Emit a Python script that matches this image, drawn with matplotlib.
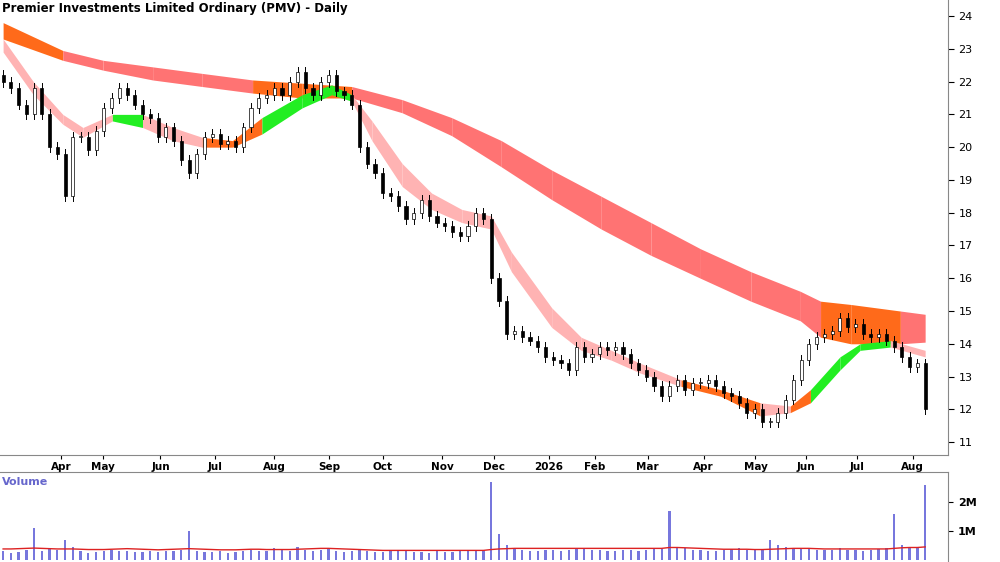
import matplotlib
matplotlib.use("Agg")
import matplotlib.pyplot as plt
import numpy as np

title = "Premier Investments Limited Ordinary (PMV) - Daily"
closes = [22.0,21.8,21.3,21.0,21.8,21.0,20.0,19.8,18.5,20.3,20.3,19.9,20.5,21.2,21.5,21.8,21.6,21.3,21.0,20.9,
          20.3,20.6,20.2,19.6,19.2,19.8,20.3,20.4,20.1,20.2,20.0,20.6,21.2,21.5,21.6,21.8,21.6,22.0,22.3,21.8,
          21.6,22.0,22.2,21.7,21.6,21.3,20.0,19.5,19.2,18.6,18.5,18.2,17.8,18.0,18.4,17.9,17.7,17.6,17.4,17.3,
          17.6,18.0,17.8,16.0,15.3,14.3,14.4,14.2,14.1,13.9,13.6,13.5,13.4,13.2,13.9,13.6,13.7,13.9,13.8,13.9,
          13.7,13.4,13.2,13.0,12.7,12.4,12.7,12.9,12.6,12.8,12.8,12.9,12.7,12.5,12.4,12.2,11.9,12.0,11.6,11.6,
          11.9,12.3,12.9,13.5,14.0,14.2,14.3,14.4,14.8,14.5,14.6,14.3,14.2,14.3,14.1,13.9,13.6,13.3,13.4,12.0]
volume_k = [300,250,280,350,1100,300,400,350,700,450,300,250,280,300,350,320,300,280,260,300,
            280,300,320,350,1000,300,280,260,300,250,280,300,350,320,300,400,350,300,450,350,
            300,350,400,300,280,320,350,300,280,260,300,320,300,280,260,250,300,280,260,300,
            320,350,300,2700,900,500,400,350,320,300,350,330,300,350,400,380,350,330,300,320,
            350,330,300,350,400,380,1700,450,400,350,330,320,300,350,380,400,360,350,380,700,
            500,450,420,400,380,350,330,360,400,350,330,320,350,380,400,1600,500,450,400,2600]
vol_ma_k = [380,380,390,400,410,400,390,380,380,380,370,360,360,360,370,380,390,380,370,360,
            350,360,370,380,390,380,370,360,350,350,350,360,370,370,360,360,360,360,370,380,
            390,400,400,390,380,370,360,350,340,330,330,330,330,330,330,330,330,330,330,330,
            330,330,330,360,380,390,400,400,400,400,400,400,400,400,400,400,400,400,400,400,
            400,400,400,400,400,400,430,430,420,410,400,390,380,370,370,370,370,360,360,370,
            380,390,400,400,400,390,380,380,380,380,380,380,380,380,380,400,420,430,430,450]

# long (slow) band, at bar-index positions
long_idx = [0,7.7,12.9,19.3,25.7,32.2,38.6,45,51.5,57.9,64.3,70.8,77.2,83.6,90,96.5,102.9,105.5,109.4,115.8,119]
long_up = [23.8,22.95,22.65,22.45,22.25,22.05,21.95,21.85,21.45,20.9,20.2,19.3,18.5,17.7,16.9,16.2,15.6,15.3,15.2,15.0,14.9]
long_lo = [23.3,22.65,22.35,22.05,21.85,21.65,21.5,21.5,21.05,20.35,19.4,18.4,17.5,16.7,16.0,15.3,14.7,14.2,14.0,14.0,14.05]
long_state = ["o","r","r","r","r","o","o","r","r","r","r","r","r","r","r","r","r","o","o","r","r"]

short_idx = [0,3.9,7.7,10.3,14.1,18,21.9,25.7,29.6,33.4,38.6,42.4,45,47.6,51.5,55.3,59.2,63,65.6,70.8,74.6,78.5,82.3,87.5,92.6,97.7,101.6,104.2,108,110.6,114.5,119]
short_up = [23.3,22.0,21.0,20.6,21.0,21.0,20.6,20.3,20.2,20.9,21.6,21.9,21.6,20.8,19.5,18.6,18.1,17.9,16.8,15.1,14.2,13.8,13.4,12.9,12.6,12.2,12.1,12.6,13.6,14.0,14.1,13.8]
short_lo = [22.9,21.6,20.7,20.3,20.8,20.6,20.2,20.0,20.0,20.4,21.2,21.6,21.4,20.2,18.8,18.1,17.7,17.5,16.2,14.5,13.8,13.5,13.1,12.7,12.4,11.8,11.9,12.2,13.2,13.8,13.9,13.6]
short_state = ["p","p","p","p","g","p","p","o","o","g","g","g","p","p","p","p","p","p","p","p","p","p","p","o","o","p","o","g","g","g","p","p"]

month_labels = ["Apr","May","Jun","Jul","Aug","Sep","Oct","Nov","Dec","2026","Feb","Mar","Apr","May","Jun","Jul","Aug"]
month_idx = [7.5,12.9,20.3,27.4,35.0,42.1,49.0,56.7,63.3,70.4,76.4,83.2,90.4,97.1,103.6,110.2,117.4]

cols = {"r": "#ff7373", "o": "#ff6a1a", "p": "#ffb3b3", "g": "#22ee22"}

fig = plt.figure(figsize=(10, 5.62), dpi=100)
ax = fig.add_axes([0, 0.19, 0.948, 0.81])
axv = fig.add_axes([0, 0.0, 0.948, 0.16])

def band(a, idx, up, lo, st):
    for i in range(len(idx) - 1):
        a.fill_between(idx[i:i+2], lo[i:i+2], up[i:i+2], color=cols[st[i]], lw=0, zorder=1)

band(ax, long_idx, long_up, long_lo, long_state)
band(ax, short_idx, short_up, short_lo, short_state)

n = len(closes)
x = np.arange(n)
opens = [closes[0] + 0.2] + closes[:-1]
for i in range(n):
    o, c = opens[i], closes[i]
    hi, lo = max(o, c) + 0.15, min(o, c) - 0.15
    ax.plot([i, i], [lo, hi], color="black", lw=0.7, zorder=3)
    ax.bar(i, abs(c - o) if abs(c - o) > 0.03 else 0.03, bottom=min(o, c), width=0.4,
           facecolor="white" if c >= o else "black", edgecolor="black", lw=0.5, zorder=4)

xl = (-0.4, 121.95)
ax.set_xlim(*xl)
ax.set_ylim(10.6, 24.49)
ax.yaxis.tick_right()
ax.set_yticks(range(11, 25))
ax.tick_params(axis="y", labelsize=8, length=4, direction="out")
ax.set_xticks(month_idx)
ax.set_xticklabels(month_labels, fontsize=7.5, fontweight="bold")
ax.tick_params(axis="x", length=3, pad=2)
for s in ["top", "left"]:
    ax.spines[s].set_visible(False)
ax.spines["right"].set_color("#888888")
ax.spines["bottom"].set_color("#888888")
ax.text(0.002, 0.995, title, transform=ax.transAxes, fontsize=8.5, fontweight="bold", va="top", ha="left")

axv.bar(x, np.array(volume_k) / 1000, width=0.3, color="#7777dd")
axv.plot(x, np.array(vol_ma_k) / 1000, color="#dd2222", lw=1)
axv.set_xlim(*xl)
axv.set_ylim(-0.07, 3.03)
axv.yaxis.tick_right()
axv.set_yticks([1, 2])
axv.set_yticklabels(["1M", "2M"], fontsize=8, fontweight="bold")
axv.set_xticks([])
for s in ["top", "left", "bottom"]:
    axv.spines[s].set_visible(False)
axv.spines["right"].set_color("#888888")
axv.text(0.002, 0.95, "Volume", transform=axv.transAxes, fontsize=8, fontweight="bold", color="#6666cc", va="top")
fig.add_artist(plt.Line2D([0, 0.948], [0.16, 0.16], color="#888888", lw=0.8))
fig.savefig("out.png", dpi=100)
